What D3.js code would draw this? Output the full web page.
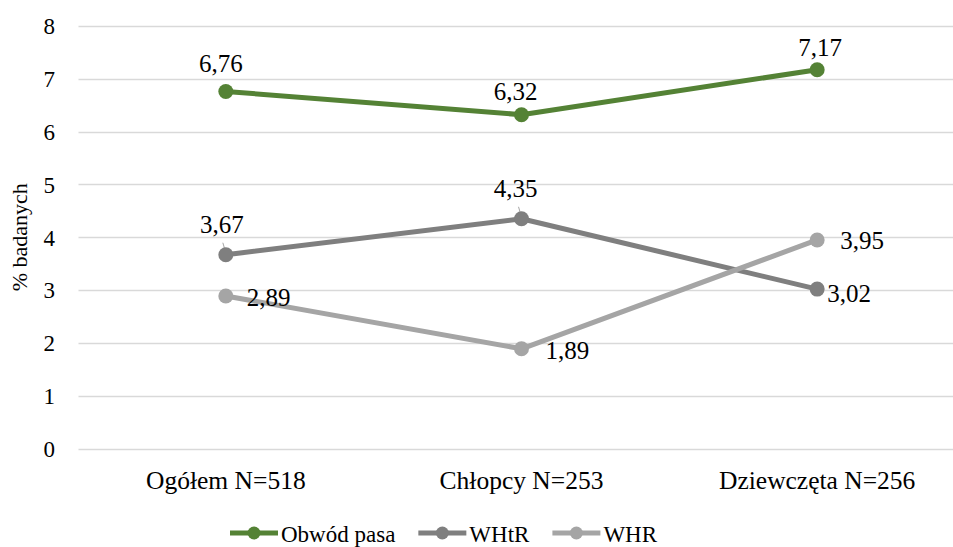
<!DOCTYPE html>
<html>
<head>
<meta charset="utf-8">
<script src="https://cdn.jsdelivr.net/npm/d3@7"></script>
<style>
  html, body { margin: 0; padding: 0; background: #fff; }
  svg { display: block; }
  svg text { font-family: "Liberation Serif", "Times New Roman", serif !important; }
</style>
</head>
<body>
<svg id="chart" width="953" height="547"></svg>
<script>
// Chart data
const categories = ["Ogółem N=518", "Chłopcy N=253", "Dziewczęta N=256"];
const seriesNames = ["Obwód pasa", "WHtR", "WHR"];
const obwodPasa = [6.76, 6.32, 7.17];
const whtr = [3.67, 4.35, 3.02];
const whr = [2.89, 1.89, 3.95];
const yTicks = [0, 1, 2, 3, 4, 5, 6, 7, 8];
const yTitle = "% badanych";

const colors = ["#548235", "#7f7f7f", "#a5a5a5"];
const FONT = "Liberation Serif";

// Label placement per series/point: anchor, dx, dy from the marker centre
const labelLayout = [
  [{a: "middle", dx: -5, dy: -19}, {a: "middle", dx: -6, dy: -15}, {a: "middle", dx: 3, dy: -14}],
  [{a: "middle", dx: -4, dy: -22, leader: true}, {a: "middle", dx: -6, dy: -22, leader: true}, {a: "start", dx: 10, dy: 13}],
  [{a: "start", dx: 21, dy: 10}, {a: "start", dx: 24, dy: 10}, {a: "start", dx: 23, dy: 9}]
];

const series = [obwodPasa, whtr, whr].map((vals, i) => ({
  name: seriesNames[i],
  color: colors[i],
  values: vals.map((v, j) => ({cat: categories[j], v, idx: j}))
}));

const svg = d3.select("#chart").attr("font-family", FONT);

const x = d3.scaleBand().domain(categories).range([78, 965]).padding(0);
const cx = c => x(c) + x.bandwidth() / 2;
const y = d3.scaleLinear().domain([0, 8]).range([448.7, 25.9]);

// Horizontal gridlines
svg.append("g")
  .selectAll("line")
  .data(yTicks)
  .join("line")
  .attr("x1", 78.5).attr("x2", 965)
  .attr("y1", d => Math.round(y(d)) + 0.5)
  .attr("y2", d => Math.round(y(d)) + 0.5)
  .attr("stroke", "#d9d9d9")
  .attr("stroke-width", 1.5);

// Y axis tick labels
const yAxis = d3.axisLeft(y).tickValues(yTicks).tickSize(0).tickPadding(0).tickFormat(d3.format("d"));
const yg = svg.append("g").attr("transform", "translate(55,0)").call(yAxis)
  .attr("font-family", FONT);
yg.select(".domain").remove();
yg.selectAll("text")
  .style("font-family", FONT)
  .attr("font-size", 23)
  .attr("fill", "#000")
  .attr("dy", "0.34em");

// Y axis title
svg.append("text")
  .attr("transform", `translate(27,${(y(0) + y(8)) / 2}) rotate(-90)`)
  .attr("text-anchor", "middle")
  .style("font-family", FONT)
  .attr("font-size", 22)
  .attr("fill", "#000")
  .text(yTitle);

// X axis category labels
const xAxis = d3.axisBottom(x).tickSize(0).tickPadding(0);
const xg = svg.append("g").attr("transform", "translate(0,489)").call(xAxis)
  .attr("font-family", FONT);
xg.select(".domain").remove();
xg.selectAll("text")
  .style("font-family", FONT)
  .attr("font-size", 25.5)
  .attr("fill", "#000")
  .attr("dy", 0)
  .attr("y", 0);

// Lines
const line = d3.line().x(d => cx(d.cat)).y(d => y(d.v));
const sg = svg.append("g").selectAll("g").data(series).join("g");

sg.append("path")
  .attr("d", d => line(d.values))
  .attr("fill", "none")
  .attr("stroke", d => d.color)
  .attr("stroke-width", 5)
  .attr("stroke-linejoin", "round");

// Leader lines for moved labels
sg.each(function(s, si) {
  d3.select(this).selectAll("line.leader")
    .data(s.values.filter(d => labelLayout[si][d.idx].leader))
    .join("line")
    .attr("class", "leader")
    .attr("x1", d => cx(d.cat) - 3)
    .attr("y1", d => y(d.v) - 12)
    .attr("x2", d => cx(d.cat))
    .attr("y2", d => y(d.v) - 2)
    .attr("stroke", "#a5a5a5")
    .attr("stroke-width", 1);
});

// Markers
sg.selectAll("circle")
  .data(d => d.values.map(v => ({...v, color: d.color})))
  .join("circle")
  .attr("cx", d => cx(d.cat))
  .attr("cy", d => y(d.v))
  .attr("r", 7.5)
  .attr("fill", d => d.color);

// Data labels
sg.each(function(s, si) {
  d3.select(this).selectAll("text.lbl")
    .data(s.values)
    .join("text")
    .attr("class", "lbl")
    .attr("x", d => cx(d.cat) + labelLayout[si][d.idx].dx)
    .attr("y", d => y(d.v) + labelLayout[si][d.idx].dy)
    .attr("text-anchor", d => labelLayout[si][d.idx].a)
    .style("font-family", FONT)
    .attr("font-size", 25)
    .attr("fill", "#000")
    .text(d => d3.format(".2f")(d.v).replace(".", ","));
});

// Legend
const legend = svg.append("g");
let lx = 230;
const ly = 533;
series.forEach(s => {
  const g = legend.append("g");
  g.append("line")
    .attr("x1", lx).attr("x2", lx + 48)
    .attr("y1", ly).attr("y2", ly)
    .attr("stroke", s.color).attr("stroke-width", 5);
  g.append("circle")
    .attr("cx", lx + 24).attr("cy", ly).attr("r", 6.5)
    .attr("fill", s.color);
  const t = g.append("text")
    .attr("x", lx + 51).attr("y", ly + 9)
    .style("font-family", FONT)
    .attr("font-size", 23)
    .attr("fill", "#000")
    .text(s.name);
  lx += 51 + t.node().getComputedTextLength() + 23;
});
</script>
</body>
</html>
